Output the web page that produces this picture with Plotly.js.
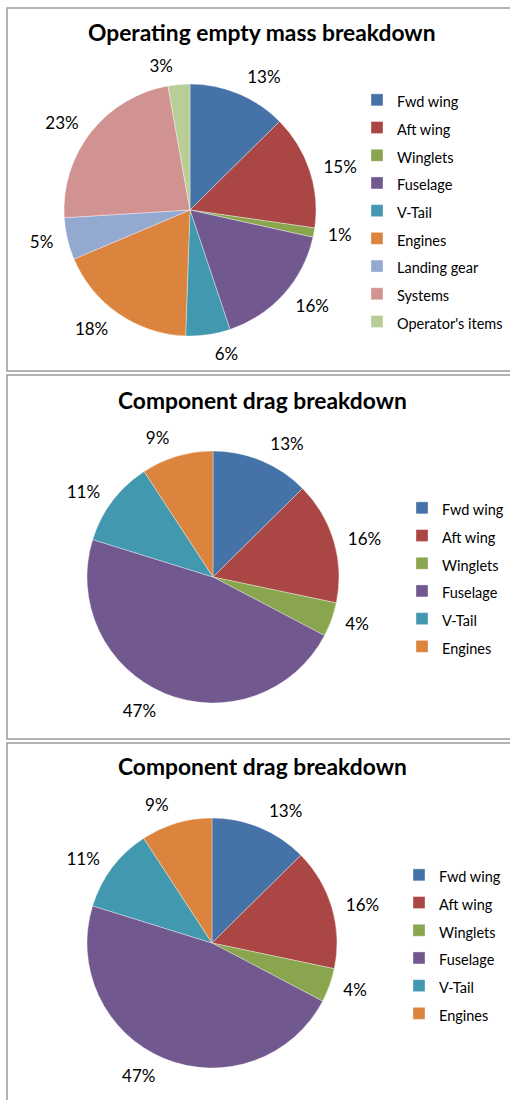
<!DOCTYPE html>
<html>
<head>
<meta charset="utf-8">
<script src="https://cdn.plot.ly/plotly-3.0.1.min.js"></script>
<style>html,body{margin:0;padding:0;background:#fff;}#chart{width:510px;height:1100px;}</style>
</head>
<body>
<div id="chart"></div>
<script>
// Chart 1: operating empty mass breakdown
const massTitle = "Operating empty mass breakdown";
const massLabels = ["Fwd wing", "Aft wing", "Winglets", "Fuselage", "V-Tail", "Engines", "Landing gear", "Systems", "Operator's items"];
const massValues = [12.6, 14.7, 1.2, 16.4, 5.7, 18.1, 5.4, 23.2, 2.8];

// Charts 2 and 3: component drag breakdown
const dragTitle = "Component drag breakdown";
const dragLabels = ["Fwd wing", "Aft wing", "Winglets", "Fuselage", "V-Tail", "Engines"];
const dragValues = [12.6, 15.7, 4.4, 47.1, 11.0, 9.2];

const palette = ["#4572A7", "#AA4643", "#89A54E", "#71588F", "#4198AF", "#DB843D", "#93A9CF", "#D19392", "#B9CD96"];

const W = 510, H = 1100;
const px = v => v / W;
const py = v => 1 - v / H;

const FONT = "Lato, 'Open Sans', 'Liberation Sans', sans-serif";
const labelGap = 9; // data labels sit a little further out than the pie edge

function pieDomain(cx, cy, r) {
  return { x: [px(cx - r), px(cx + r)], y: [py(cy + r), py(cy - r)] };
}

// visible pie with legend, no text. Each chart's legend text uses a slightly
// different (but equivalent) style string so that pie slices of different
// charts are not merged into one legend by label.
function pieTrace(labels, values, cx, cy, r, legendName, style) {
  return {
    type: "pie",
    labels: labels.map(l => '<span style="' + style + '">' + l + '</span>'),
    values: values,
    sort: false,
    direction: "clockwise",
    rotation: 0,
    domain: pieDomain(cx, cy, r),
    marker: { colors: palette.slice(0, labels.length), line: { color: "rgba(255,255,255,0.6)", width: 0.6 } },
    textinfo: "none",
    hoverinfo: "percent",
    legend: legendName,
    automargin: false
  };
}

// transparent copy used only to place the percentage labels
function labelTrace(labels, values, cx, cy, r, tag) {
  return {
    type: "pie",
    labels: labels.map(l => "lbl" + tag + l),
    values: values,
    sort: false,
    direction: "clockwise",
    rotation: 0,
    domain: pieDomain(cx, cy, r + labelGap),
    marker: { colors: labels.map(() => "rgba(0,0,0,0)"), line: { color: "rgba(0,0,0,0)", width: 0 } },
    textposition: "outside",
    texttemplate: "%{percent:.0%}",
    textfont: { family: FONT, size: 17, color: "#000" },
    hoverinfo: "skip",
    showlegend: false,
    automargin: false
  };
}

const data = [
  pieTrace(massLabels, massValues, 190, 210, 126, "legend", "font-size:14.5px"),
  pieTrace(dragLabels, dragValues, 213, 577, 126, "legend2", "font-size:14.5px;"),
  pieTrace(dragLabels, dragValues, 212, 943, 125, "legend3", "font-size: 14.5px"),
  labelTrace(massLabels, massValues, 190, 210, 126, "1"),
  labelTrace(dragLabels, dragValues, 213, 577, 126, "2"),
  labelTrace(dragLabels, dragValues, 212, 943, 125, "3")
];

function legendCfg(x, ytop) {
  return {
    visible: true,
    x: px(x), y: py(ytop), xanchor: "left", yanchor: "top",
    bgcolor: "rgba(0,0,0,0)", borderwidth: 0,
    font: { family: FONT, size: 19, color: "#000" },
    itemwidth: 30,
    traceorder: "normal"
  };
}

const titleFont = { family: FONT, size: 22.8, color: "#000", weight: "bold" };

const layout = {
  width: W, height: H,
  margin: { l: 0, r: 0, t: 0, b: 0, autoexpand: false },
  paper_bgcolor: "#fff",
  showlegend: true,
  legend: legendCfg(357, 81),
  legend2: legendCfg(402, 489),
  legend3: legendCfg(399, 856),
  annotations: [
    { text: "<b>" + massTitle + "</b>", x: px(262), y: py(32), xref: "paper", yref: "paper", xanchor: "center", yanchor: "middle", showarrow: false, font: titleFont },
    { text: "<b>" + dragTitle + "</b>", x: px(262), y: py(400), xref: "paper", yref: "paper", xanchor: "center", yanchor: "middle", showarrow: false, font: titleFont },
    { text: "<b>" + dragTitle + "</b>", x: px(262), y: py(766), xref: "paper", yref: "paper", xanchor: "center", yanchor: "middle", showarrow: false, font: titleFont }
  ],
  shapes: [
    { type: "rect", xref: "paper", yref: "paper", x0: px(7), x1: px(520), y0: py(371), y1: py(8), line: { color: "#9a9a9a", width: 1.5 } },
    { type: "rect", xref: "paper", yref: "paper", x0: px(7), x1: px(520), y0: py(739), y1: py(375), line: { color: "#9a9a9a", width: 1.5 } },
    { type: "rect", xref: "paper", yref: "paper", x0: px(7), x1: px(520), y0: py(1110), y1: py(743), line: { color: "#9a9a9a", width: 1.5 } }
  ]
};

Plotly.newPlot("chart", data, layout, { displayModeBar: false, staticPlot: true });
</script>
</body>
</html>
